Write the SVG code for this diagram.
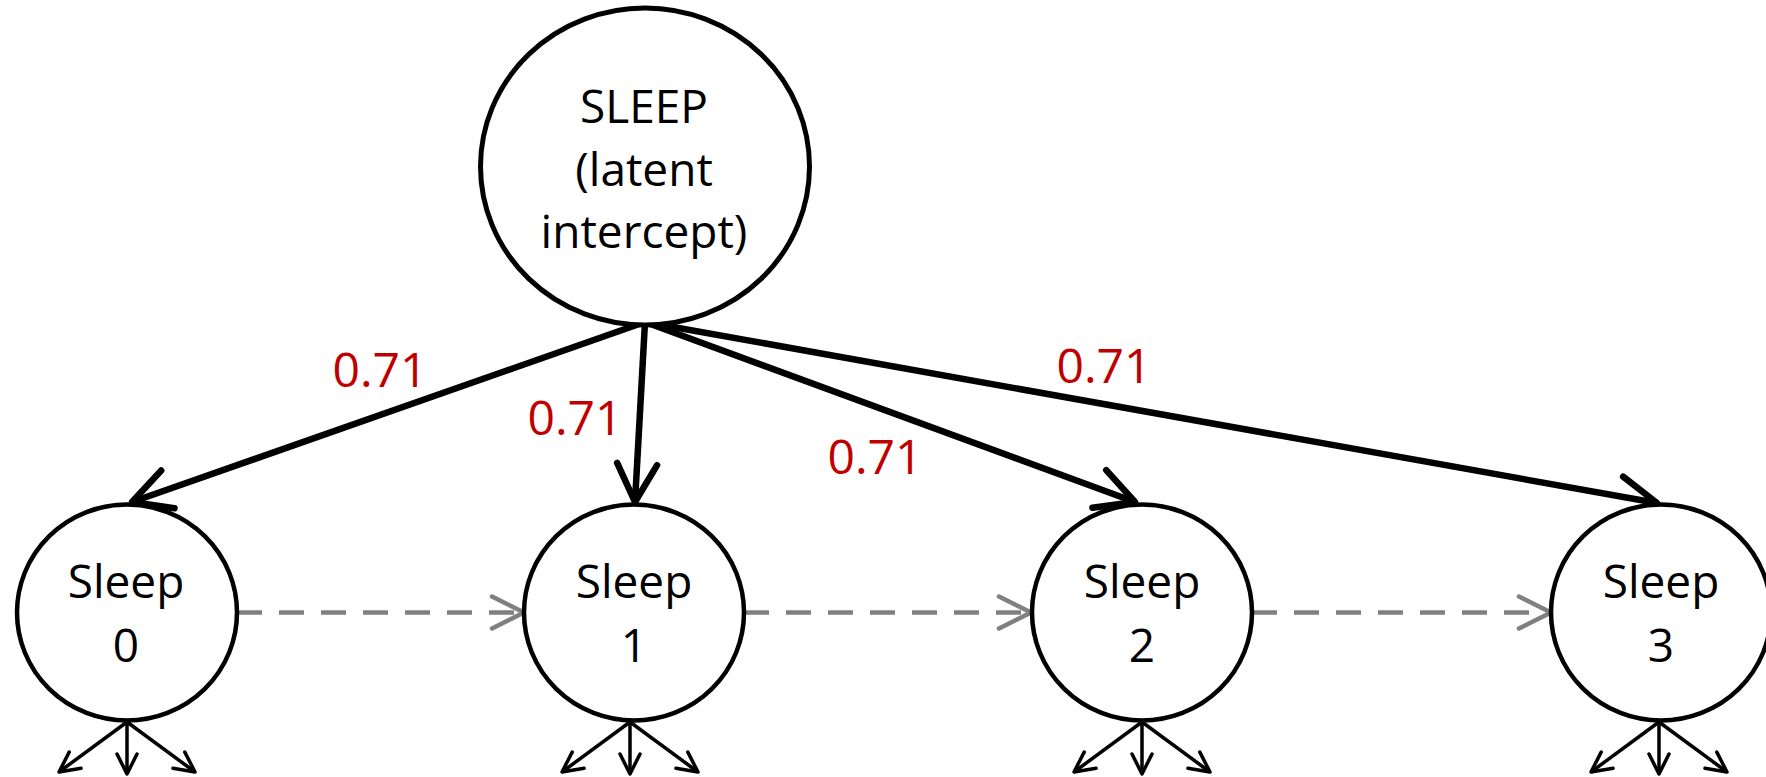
<svg xmlns="http://www.w3.org/2000/svg" width="1766" height="777" viewBox="0 0 1766 777">
  <defs>
    <style>
      .node { fill: #ffffff; stroke: #000000; }
      .label { font-family: "Open Sans", "Liberation Sans", sans-serif; font-size: 46px; fill: #000000; text-anchor: middle; }
      .coef { font-family: "Open Sans", "Liberation Sans", sans-serif; font-size: 48px; fill: #c00000; text-anchor: middle; }
      .load { stroke: #000000; stroke-width: 6.5; fill: none; marker-end: url(#headBig); }
      .auto { stroke: #808080; stroke-width: 4.5; fill: none; stroke-dasharray: 25 17; marker-end: url(#headGray); }
      .ind { stroke: #000000; stroke-width: 3.5; fill: none; marker-end: url(#headSmall); }
    </style>
    <marker id="headBig" markerUnits="userSpaceOnUse" viewBox="-45 -26 50 52" refX="0" refY="0" markerWidth="50" markerHeight="52" orient="auto" overflow="visible">
      <path d="M -38 -20 L 0 0 L -38 20" fill="none" stroke="#000000" stroke-width="6.5" stroke-linecap="round" stroke-linejoin="round"/>
    </marker>
    <marker id="headGray" markerUnits="userSpaceOnUse" viewBox="-40 -22 44 44" refX="0" refY="0" markerWidth="44" markerHeight="44" orient="auto" overflow="visible">
      <path d="M -32 -16 L 0 0 L -32 16" fill="none" stroke="#808080" stroke-width="4.5" stroke-linecap="round" stroke-linejoin="round"/>
    </marker>
    <marker id="headSmall" markerUnits="userSpaceOnUse" viewBox="-26 -14 30 28" refX="0" refY="0" markerWidth="30" markerHeight="28" orient="auto" overflow="visible">
      <path d="M -20 -10 L 0 0 L -20 10" fill="none" stroke="#000000" stroke-width="3.5" stroke-linecap="round" stroke-linejoin="round"/>
    </marker>
  </defs>

  <rect width="1766" height="777" fill="#ffffff"/>

  <!-- connectors -->
  <g id="connectors">
    <!-- loadings from the latent intercept -->
    <line class="load" x1="645" y1="322" x2="132" y2="502"/>
    <line class="load" x1="645" y1="322" x2="635" y2="502"/>
    <line class="load" x1="645" y1="322" x2="1135" y2="502"/>
    <line class="load" x1="645" y1="322" x2="1657" y2="503"/>
    <!-- autoregressive paths -->
    <line class="auto" x1="237" y1="612.5" x2="524" y2="612.5"/>
    <line class="auto" x1="744" y1="612.5" x2="1031" y2="612.5"/>
    <line class="auto" x1="1252" y1="612.5" x2="1551" y2="612.5"/>
    <!-- indicator stubs -->
    <g>
      <line class="ind" x1="127" y1="722" x2="59" y2="772"/>
      <line class="ind" x1="127" y1="722" x2="127" y2="774"/>
      <line class="ind" x1="127" y1="722" x2="195" y2="772"/>
    </g>
    <g>
      <line class="ind" x1="630" y1="722" x2="562" y2="772"/>
      <line class="ind" x1="630" y1="722" x2="630" y2="774"/>
      <line class="ind" x1="630" y1="722" x2="698" y2="772"/>
    </g>
    <g>
      <line class="ind" x1="1142" y1="722" x2="1074" y2="772"/>
      <line class="ind" x1="1142" y1="722" x2="1142" y2="774"/>
      <line class="ind" x1="1142" y1="722" x2="1210" y2="772"/>
    </g>
    <g>
      <line class="ind" x1="1659" y1="722" x2="1591" y2="772"/>
      <line class="ind" x1="1659" y1="722" x2="1659" y2="774"/>
      <line class="ind" x1="1659" y1="722" x2="1727" y2="772"/>
    </g>
  </g>

  <!-- loading values -->
  <g id="coefficients">
    <text class="coef" x="380" y="387">0.71</text>
    <text class="coef" x="575" y="435">0.71</text>
    <text class="coef" x="875" y="474">0.71</text>
    <text class="coef" x="1104" y="383">0.71</text>
  </g>

  <!-- latent intercept -->
  <g id="sleep-latent">
    <ellipse class="node" cx="645" cy="166.5" rx="164.5" ry="158.5" stroke-width="5"/>
    <text class="label" x="644" y="123">SLEEP</text>
    <text class="label" x="644" y="186">(latent</text>
    <text class="label" x="644" y="248">intercept)</text>
  </g>

  <!-- observed waves -->
  <g id="sleep-0">
    <ellipse class="node" cx="127" cy="612.5" rx="110" ry="108" stroke-width="4.5"/>
    <text class="label" x="126" y="598">Sleep</text>
    <text class="label" x="126" y="662">0</text>
  </g>
  <g id="sleep-1">
    <ellipse class="node" cx="634" cy="612.5" rx="110" ry="108" stroke-width="4.5"/>
    <text class="label" x="634" y="598">Sleep</text>
    <text class="label" x="634" y="662">1</text>
  </g>
  <g id="sleep-2">
    <ellipse class="node" cx="1142" cy="612.5" rx="110" ry="108" stroke-width="4.5"/>
    <text class="label" x="1142" y="598">Sleep</text>
    <text class="label" x="1142" y="662">2</text>
  </g>
  <g id="sleep-3">
    <ellipse class="node" cx="1661" cy="612.5" rx="110" ry="108" stroke-width="4.5"/>
    <text class="label" x="1661" y="598">Sleep</text>
    <text class="label" x="1661" y="662">3</text>
  </g>
</svg>
